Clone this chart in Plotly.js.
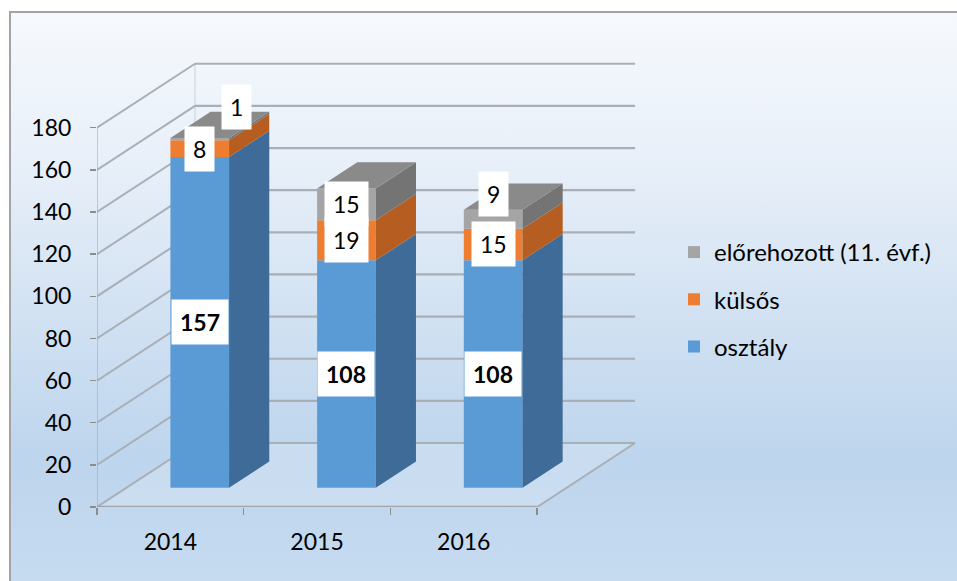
<!DOCTYPE html>
<html>
<head>
<meta charset="utf-8">
<script src="https://cdn.plot.ly/plotly-3.0.1.min.js"></script>
<style>
  html, body { margin: 0; padding: 0; background: #ffffff; width: 957px; height: 581px; overflow: hidden; }
  #frame {
    position: absolute; left: 9px; top: 11px; width: 948px; height: 570px;
    border: 2px solid #a3a3a3;
    background: linear-gradient(to bottom, #f6f9fd 0%, #e9f0f9 25%, #d4e3f3 50%, #bdd5ed 78%, #c6dbf0 100%);
  }
  #chart { position: absolute; left: 0; top: 0; width: 957px; height: 581px; }
</style>
</head>
<body>
<div id="frame"></div>
<div id="chart"></div>
<script>
// ---- data ----
const years = ['2014', '2015', '2016'];
const osztaly = [157, 108, 108];
const kulsos = [8, 19, 15];
const elorehozott = [1, 15, 9];
const seriesNames = ['osztály', 'külsős', 'előrehozott (11. évf.)'];
const yTicks = [0, 20, 40, 60, 80, 100, 120, 140, 160, 180];

// ---- style / geometry ----
const FONT = 'Lato, "Open Sans", sans-serif';
const FS = 23;
const frontColors = ['#5b9bd5', '#ed7d31', '#a5a5a5'];
const sideColors = ['#3e6b97', '#b65e21', '#747474'];
const topColor = '#8a8a8a';
const gridColor = '#a9afb6';
const DX = 0.668, DY = 30.37;       // full depth offset in data units
const FRONT = 0.30, BARDEPTH = 0.41; // bar placement inside depth
const BARW = 0.40;
const fx = FRONT * DX, fy = FRONT * DY;
const ddx = BARDEPTH * DX, ddy = BARDEPTH * DY;
const labelShift = [[[0,0],[0,0],[37,32]], [[0,0],[0,0],[0,0]], [[0,0],[0,0],[0,25]]];

const series = [osztaly, kulsos, elorehozott];
const n = years.length;
const xc = years.map((_, i) => i + fx);

const traces = [];
const annotations = [];
const cum = years.map(() => fy);

series.forEach((vals, s) => {
  const bases = cum.slice();
  traces.push({
    type: 'bar', x: xc, y: vals, base: bases, width: BARW,
    name: seriesNames[s], legendgroup: 'g' + s, legendrank: 10 - s,
    marker: { color: frontColors[s], line: { width: 0 } },
    hoverinfo: 'skip'
  });
  vals.forEach((v, i) => {
    const b = bases[i], t = b + v;
    const xr = xc[i] + BARW / 2;
    traces.push({
      type: 'scatter', mode: 'lines', fill: 'toself', fillcolor: sideColors[s],
      line: { width: 0, color: sideColors[s] }, showlegend: false, hoverinfo: 'skip',
      x: [xr, xr + ddx, xr + ddx, xr, xr], y: [b, b + ddy, t + ddy, t, b]
    });
    annotations.push({
      x: xc[i], y: b + v / 2, xref: 'x', yref: 'y', showarrow: false,
      text: s === 0 ? '<b>' + v + '</b>' : String(v),
      font: { family: FONT, size: FS, color: '#000000' },
      bgcolor: '#ffffff', borderpad: 8,
      xshift: labelShift[i][s][0], yshift: labelShift[i][s][1]
    });
    cum[i] = t;
  });
});
// top faces
years.forEach((_, i) => {
  const T = cum[i], xl = xc[i] - BARW / 2, xr = xc[i] + BARW / 2;
  traces.push({
    type: 'scatter', mode: 'lines', fill: 'toself', fillcolor: topColor,
    line: { width: 0, color: topColor }, showlegend: false, hoverinfo: 'skip',
    x: [xl, xl + ddx, xr + ddx, xr, xl], y: [T, T + ddy, T + ddy, T, T]
  });
});

// walls, floor and gridlines
const shapes = [];
const x0 = -0.5, x1 = n - 0.5;
shapes.push({ type: 'path', layer: 'below', line: { width: 0 }, fillcolor: 'rgba(255,255,255,0.18)',
  path: `M${x0},0 L${x1},0 L${x1 + DX},${DY} L${x0 + DX},${DY} Z` });
yTicks.forEach(v => {
  shapes.push({ type: 'line', layer: 'below', x0: x0 + DX, y0: v + DY, x1: x1 + DX, y1: v + DY,
    line: { color: gridColor, width: 2.2 } });
  shapes.push({ type: 'line', layer: 'below', x0: x0, y0: v, x1: x0 + DX, y1: v + DY,
    line: { color: gridColor, width: 2 } });
});
shapes.push({ type: 'line', layer: 'below', x0: x1, y0: 0, x1: x1 + DX, y1: DY, line: { color: gridColor, width: 2 } });
shapes.push({ type: 'line', layer: 'below', x0: x0 + DX, y0: DY, x1: x0 + DX, y1: yTicks[yTicks.length - 1] + DY,
  line: { color: 'rgba(169,175,182,0.5)', width: 1 } });
shapes.push({ type: 'line', layer: 'below', x0: x0, y0: 0, x1: x0, y1: yTicks[yTicks.length - 1],
  line: { color: 'rgba(160,166,173,0.7)', width: 1.5 } });
shapes.push({ type: 'line', layer: 'below', x0: x0, y0: 0, x1: x1, y1: 0, line: { color: '#9fa4aa', width: 2.5 } });

const layout = {
  width: 957, height: 581,
  margin: { l: 97, r: 257, t: 40, b: 74, autoexpand: false },
  paper_bgcolor: 'rgba(0,0,0,0)', plot_bgcolor: 'rgba(0,0,0,0)',
  barmode: 'overlay',
  showlegend: true,
  font: { family: FONT, size: FS, color: '#000000' },
  xaxis: {
    range: [-0.5, -0.5 + 603 / 146.7], showgrid: false, zeroline: false, showline: false,
    automargin: false,
    tickmode: 'array', tickvals: years.map((_, i) => i), ticktext: years, ticks: '',
    ticklabelstandoff: 19, tickfont: { family: FONT, size: FS, color: '#000000' },
    minor: { tickmode: 'array', tickvals: [-0.5, 0.5, 1.5, 2.5], ticks: 'outside', ticklen: 7, tickwidth: 1.5, tickcolor: '#8c8c8c', showgrid: false },
    fixedrange: true
  },
  yaxis: {
    range: [0, 467 / 2.107], showgrid: false, zeroline: false, showline: false,
    automargin: false,
    tickmode: 'array', tickvals: yTicks, ticks: 'outside', ticklen: 6, tickwidth: 1.5, tickcolor: '#8c8c8c',
    ticklabelstandoff: 14, tickfont: { family: FONT, size: FS, color: '#000000' },
    fixedrange: true
  },
  legend: {
    xref: 'container', yref: 'container', x: 674 / 957, y: 1 - 230 / 581,
    xanchor: 'left', yanchor: 'top', traceorder: 'grouped', tracegroupgap: 13,
    bgcolor: 'rgba(0,0,0,0)', font: { family: FONT, size: 24, color: '#000000' }
  },
  shapes: shapes,
  annotations: annotations
};

Plotly.newPlot('chart', traces, layout, { staticPlot: true, displayModeBar: false });
</script>
</body>
</html>
